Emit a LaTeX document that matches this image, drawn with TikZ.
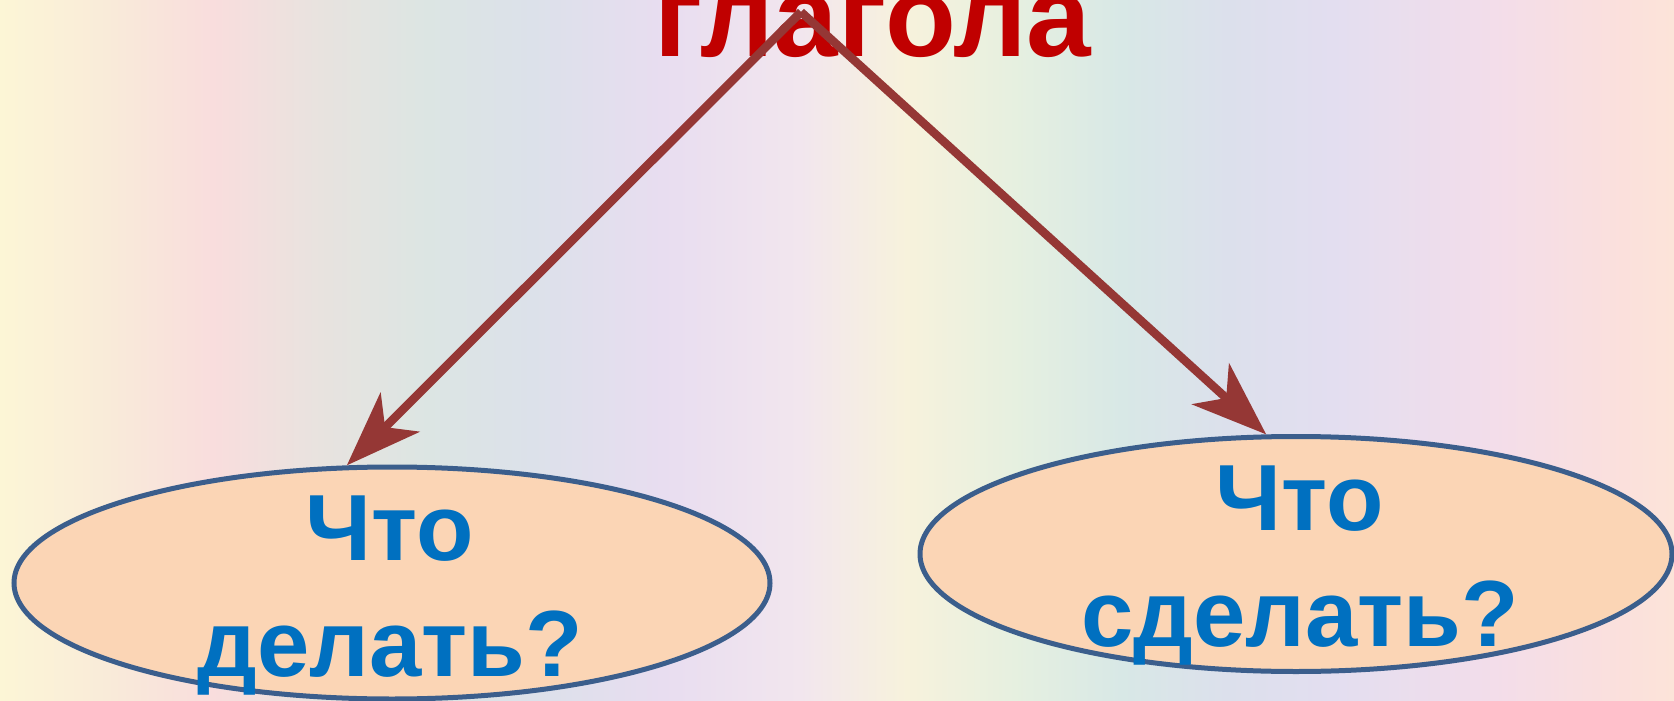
\documentclass[tikz,border=0pt]{standalone}
\usepackage{fontspec}
\setmainfont{Liberation Sans}
\usetikzlibrary{arrows.meta,shapes.geometric}
\definecolor{redtxt}{HTML}{C00000}
\definecolor{bluetxt}{HTML}{0070C0}
\definecolor{ellfill}{HTML}{FBD5B5}
\definecolor{ellline}{HTML}{3B5E8C}
\definecolor{arrowc}{HTML}{953735}
\definecolor{b0}{HTML}{FCF6D6}
\definecolor{b1}{HTML}{F9EBD9}
\definecolor{b2}{HTML}{F9DDDD}
\definecolor{b3}{HTML}{E8E3DF}
\definecolor{b4}{HTML}{DCE5E3}
\definecolor{b5}{HTML}{DCE1EA}
\definecolor{b6}{HTML}{E8DDF0}
\definecolor{b7}{HTML}{F2E6EE}
\definecolor{b8}{HTML}{F7F2DC}
\definecolor{b9}{HTML}{E6F0E0}
\definecolor{b10}{HTML}{D8E8E6}
\definecolor{b11}{HTML}{DCE0EC}
\definecolor{b12}{HTML}{E3DEF0}
\definecolor{b13}{HTML}{F3DDEA}
\definecolor{b14}{HTML}{FBE0DC}
\definecolor{b15}{HTML}{FCE4D9}
\tikzset{
  oval/.style={ellipse, draw=ellline, line width=5pt, fill=ellfill, inner sep=0pt},
  bluetext/.style={text=bluetxt, font=\fontsize{94}{116}\selectfont\bfseries, align=center, anchor=base, inner sep=0pt},
  titletext/.style={text=redtxt, font=\fontsize{116}{120}\selectfont\bfseries, anchor=base, inner sep=0pt},
  connector/.style={draw=arrowc, line width=8.5pt, -{Stealth[length=75pt, width=55pt, inset=21pt]}}
}
\begin{document}
\begin{tikzpicture}[x=1pt,y=1pt]
\useasboundingbox (0,0) rectangle (1674,-701);
\begin{scope}
\clip (0,0) rectangle (1674,-701);
% background pastel stripes
\foreach \xa/\xb/\ca/\cb in {0/107/b0/b1,107/213/b1/b2,213/320/b2/b3,320/427/b3/b4,427/534/b4/b5,534/662/b5/b6,662/800/b6/b7,800/907/b7/b8,907/1014/b8/b9,1014/1121/b9/b10,1121/1228/b10/b11,1228/1334/b11/b12,1334/1494/b12/b13,1494/1623/b13/b14,1623/1674/b14/b15}{
  \shade[left color=\ca, right color=\cb] (\xa-0.5,1) rectangle (\xb+0.5,-702);
}
% title
\node[titletext] (title) at (873,-57) {глагола};
% ellipses
\node[oval, minimum width=756pt, minimum height=232pt] (L) at (392,-583) {};
\node[oval, minimum width=752pt, minimum height=235pt] (R) at (1296,-554) {};
\node[bluetext] (Ltxt) at (390,-676) {Что\\делать?};
\node[bluetext] (Rtxt) at (1300,-646) {Что\\сделать?};
% connectors
\coordinate (apex) at (801,-12);
\draw[connector] (apex) -- (L.111);
\draw[connector] (apex) -- (R.104);
\end{scope}
\end{tikzpicture}
\end{document}
